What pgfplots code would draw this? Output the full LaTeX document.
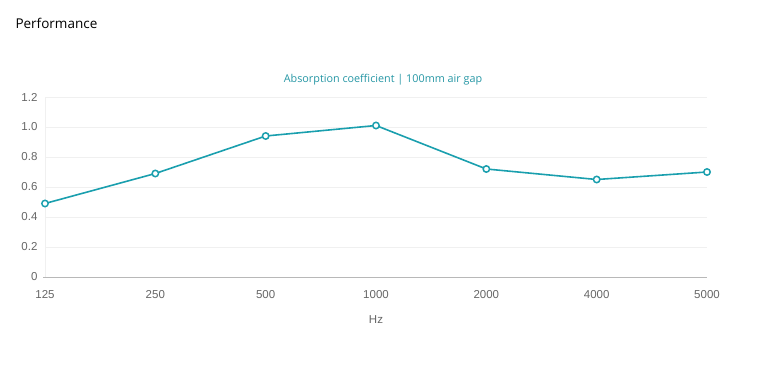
\documentclass[border=0pt]{standalone}
\usepackage{pgfplots}
\pgfplotsset{compat=1.18}
\usepackage{fontspec}
\setmainfont{Liberation Sans}
\newfontfamily\titlefont{Open Sans}
\definecolor{teal1}{HTML}{1A9FAE}
\definecolor{teal2}{HTML}{2596A4}
\definecolor{gridc}{HTML}{F0F0F0}
\definecolor{axisc}{HTML}{B8B8B8}
\definecolor{tickc}{HTML}{666666}
\begin{document}
\begin{tikzpicture}[x=1pt,y=1pt]
\path[use as bounding box] (0,0) rectangle (770,378);
\node[anchor=west,font=\titlefont\fontsize{13.5}{15}\selectfont] at (12,355) {Performance};
\begin{axis}[
  at={(45pt,101pt)}, anchor=south west,
  scale only axis, width=662pt, height=180pt,
  xmin=0, xmax=6, ymin=0, ymax=1.2,
  xtick={0,...,6},
  xticklabels={125,250,500,1000,2000,4000,5000},
  ytick={0,0.2,...,1.2},
  yticklabels={0,0.2,0.4,0.6,0.8,1.0,1.2},
  axis line style={draw=none},
  ymajorgrids, grid style={gridc, line width=0.8pt},
  major tick length=0pt,
  tick label style={font=\fontsize{11.5}{13}\selectfont, text=tickc},
  yticklabel style={xshift=-4pt},
  xticklabel style={yshift=-10pt},
  xlabel={Hz}, xlabel style={font=\fontsize{11.5}{13}\selectfont, text=tickc, yshift=-10pt},
  title={Absorption coefficient | 100mm air gap},
  title style={font=\titlefont\fontsize{10.8}{12}\selectfont, text=teal2, yshift=2pt, xshift=7pt},
  clip=false,
]
\draw[gridc, line width=0.8pt] (axis cs:0,0) -- (axis cs:0,1.2);
\draw[axisc, line width=0.8pt] (axis cs:-0.015,0) -- (axis cs:6,0);
\addplot[teal1, line width=1.6pt, mark=*, mark size=3.2pt,
  mark options={fill=white, draw=teal1, line width=1.5pt}]
  coordinates {(0,0.49) (1,0.69) (2,0.94) (3,1.01) (4,0.72) (5,0.65) (6,0.70)};
\end{axis}
\end{tikzpicture}
\end{document}
